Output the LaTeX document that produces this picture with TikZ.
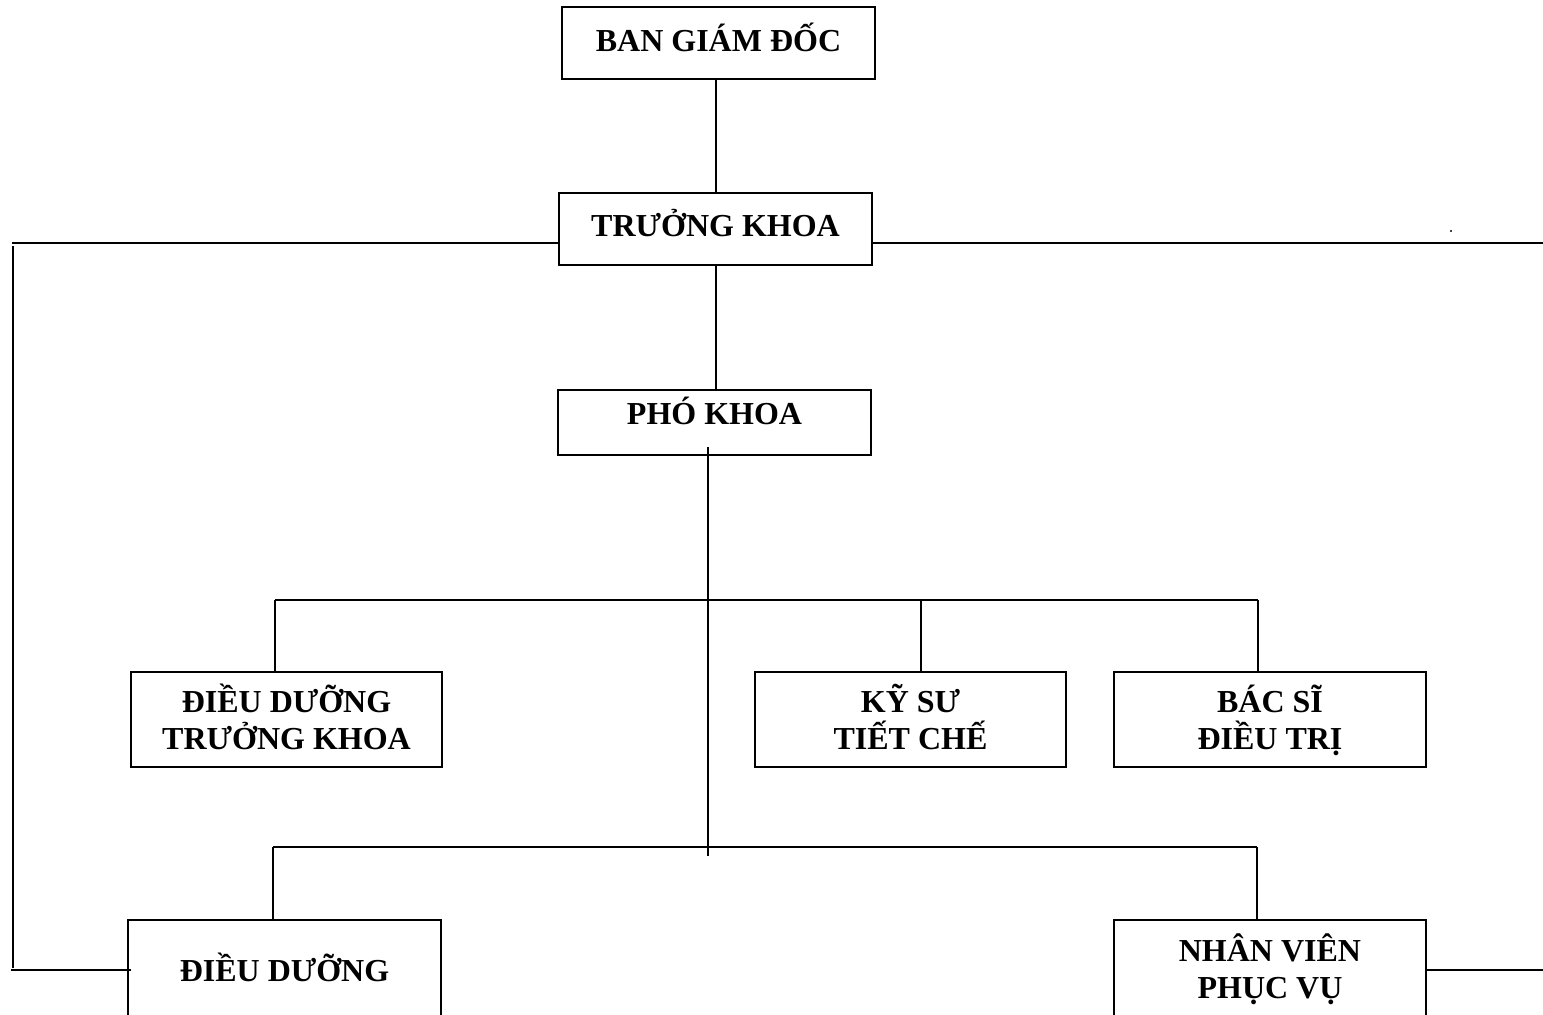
\documentclass[tikz,border=0pt]{standalone}
\usepackage{fontspec}
\setmainfont{Liberation Serif}
\begin{document}
\begin{tikzpicture}[x=1pt,y=-1pt,
  box/.style={draw,line width=2.2pt,rectangle,inner sep=0pt},
  txt/.style={anchor=base,inner sep=0pt,font=\fontsize{32}{38}\selectfont\bfseries},
  conn/.style={line width=2.2pt}]
\clip (0,0) rectangle (1543,1015);
\fill[white] (0,0) rectangle (1543,1015);
% boxes
\node[box,minimum width=313pt,minimum height=72pt] (bgd) at (718.5,43) {};
\node[box,minimum width=313pt,minimum height=72pt] (tk) at (715.5,229) {};
\node[box,minimum width=313pt,minimum height=65pt] (pk) at (714.5,422.5) {};
\node[box,minimum width=311pt,minimum height=95pt] (ddtk) at (286.5,719.5) {};
\node[box,minimum width=311pt,minimum height=95pt] (ks) at (910.5,719.5) {};
\node[box,minimum width=312pt,minimum height=95pt] (bs) at (1270,719.5) {};
\node[box,minimum width=313pt,minimum height=100pt] (dd) at (284.5,970) {};
\node[box,minimum width=312pt,minimum height=100pt] (nv) at (1270,970) {};
% texts
\node[txt] (tbgd) at (718.5,51) {BAN GIÁM ĐỐC};
\node[txt] (ttk) at (715.5,236) {TRƯỞNG KHOA};
\node[txt] (tpk) at (714.5,424) {PHÓ KHOA};
\node[txt] (tddtk1) at (286.5,712) {ĐIỀU DƯỠNG};
\node[txt] (tddtk2) at (286.5,749) {TRƯỞNG KHOA};
\node[txt] (tks1) at (910.5,712) {KỸ SƯ};
\node[txt] (tks2) at (910.5,749) {TIẾT CHẾ};
\node[txt] (tbs1) at (1270,712) {BÁC SĨ};
\node[txt] (tbs2) at (1270,749) {ĐIỀU TRỊ};
\node[txt] (tdd) at (284.5,981) {ĐIỀU DƯỠNG};
\node[txt] (tnv1) at (1270,961) {NHÂN VIÊN};
\node[txt] (tnv2) at (1270,998) {PHỤC VỤ};
\node[circle,fill,inner sep=0pt,minimum size=2.4pt] (dot) at (1451,231) {};
% coordinates
\coordinate (x1) at (716,0);
\coordinate (tkL) at (559,243);
\coordinate (tkR) at (872,243);
\coordinate (leftTop) at (12,243);
\coordinate (leftV) at (13,246);
\coordinate (leftB) at (13,968);
\coordinate (ddL0) at (11,970);
\coordinate (ddL) at (131,970);
\coordinate (rightEnd) at (1543,243);
\coordinate (nvR) at (1543,970);
\coordinate (stemTop) at (708,447);
\coordinate (stemBot) at (708,856);
\coordinate (b1L) at (275,600);
\coordinate (b1M) at (921,600);
\coordinate (b1R) at (1258,600);
\coordinate (b2L) at (273,847);
\coordinate (b2R) at (1257,847);
% connectors
\draw[conn] (bgd.south -| x1) -- (tk.north -| x1);
\draw[conn] (tk.south -| x1) -- (pk.north -| x1);
\draw[conn] (tkL) -- (leftTop);
\draw[conn] (leftV) -- (leftB);
\draw[conn] (ddL0) -- (ddL);
\draw[conn] (tkR) -- (rightEnd);
\draw[conn] (nv.east) -- (nvR);
\draw[conn] (stemTop) -- (stemBot);
\draw[conn] (b1L) -- (b1R);
\draw[conn] (b1L) -- (b1L |- ddtk.north);
\draw[conn] (b1M) -- (b1M |- ks.north);
\draw[conn] (b1R) -- (b1R |- bs.north);
\draw[conn] (b2L) -- (b2R);
\draw[conn] (b2L) -- (b2L |- dd.north);
\draw[conn] (b2R) -- (b2R |- nv.north);
\end{tikzpicture}
\end{document}
